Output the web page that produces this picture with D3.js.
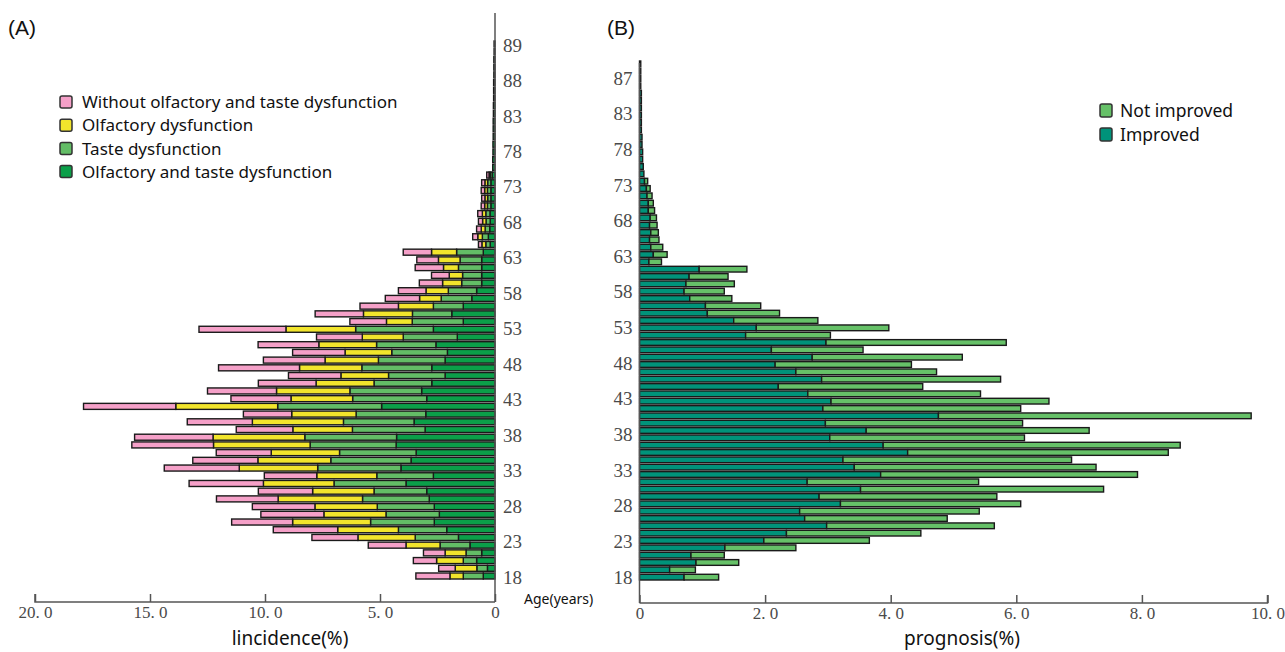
<!DOCTYPE html>
<html>
<head>
<meta charset="utf-8">
<script src="https://cdn.jsdelivr.net/npm/d3@7"></script>
<style>
  body { margin: 0; background: #fff; }
  svg { display: block; }
</style>
</head>
<body>
<div id="chart"></div>
<script>
// ---- data (row 0 = bottom bar) ----
// panel A, incidence (%) by age row
var bothA  = [0.51,0.33,0.80,0.58,1.09,1.59,2.10,2.64,2.42,2.64, 2.86,2.97,3.87,2.68,4.09,3.65,3.43,4.30,4.28,3.04,
              3.52,3.01,4.93,2.97,3.19,2.75,2.17,2.75,2.17,2.07, 2.57,1.64,2.68,1.38,1.88,1.38,1.01,0.80,0.58,0.58,
              0.58,0.58,0.51,0.21,0.29,0.23,0.21,0.22,0.18,0.18, 0.18,0.18,0.12,0.10,0.10,0.09,0.09,0.08,0.08,0.08,
              0.07,0.07,0.06,0.06,0.06,0.05,0.05,0.05,0.04,0.04];
var tasteA = [0.87,0.46,0.58,0.68,1.30,1.88,2.10,2.77,2.32,2.48, 2.90,2.29,3.13,2.46,3.62,3.49,3.33,3.74,3.99,3.16,
              3.07,3.03,4.52,3.22,3.12,2.51,2.46,3.04,2.90,2.42, 2.58,2.35,3.38,2.22,1.71,1.30,1.33,1.23,0.87,0.83,
              1.01,0.94,1.16,0.19,0.26,0.20,0.18,0.18,0.15,0.14, 0.15,0.14,0.08,0,0,0,0,0,0,0,
              0,0,0,0,0,0,0,0,0,0];
var olfA   = [0.58,0.94,1.16,0.91,1.48,2.49,2.64,3.39,2.70,2.71, 3.67,2.67,3.07,2.61,3.41,3.17,2.97,4.20,3.99,2.59,
              3.96,2.80,4.43,2.68,3.19,2.52,2.07,2.71,2.32,2.03, 2.51,1.78,3.03,1.12,2.13,1.52,0.94,0.97,0.83,0.58,
              0.65,0.94,1.09,0.17,0.20,0.17,0.15,0.15,0.12,0.12, 0.12,0.12,0.06,0,0,0,0,0,0,0,
              0,0,0,0,0,0,0,0,0,0];
var noneA  = [1.48,0.72,1.01,0.94,1.64,2.00,2.80,2.65,2.74,2.72, 2.68,2.36,3.23,2.28,3.26,2.83,2.39,3.55,3.41,2.46,
              2.83,2.10,4.01,2.61,3.00,2.51,2.28,3.52,2.68,2.28, 2.64,1.99,3.78,1.59,2.10,1.67,1.49,1.20,1.01,0.77,
              1.23,0.94,1.23,0.15,0.22,0.20,0.18,0.20,0.15,0.14, 0.15,0.14,0.10,0,0,0,0,0,0,0,
              0,0,0,0,0,0,0,0,0,0];

// panel B, prognosis (%) by age row
var improvedB    = [0.71,0.48,0.90,0.82,1.36,1.98,2.34,2.98,2.63,2.55, 3.20,2.86,3.52,2.67,3.84,3.42,3.24,4.27,3.88,3.03,
                    3.61,2.96,4.76,2.92,3.05,2.68,2.21,2.90,2.49,2.16, 2.75,2.10,2.97,1.69,1.86,1.50,1.08,1.05,0.80,0.71,
                    0.74,0.79,0.95,0.15,0.22,0.18,0.16,0.18,0.16,0.17, 0.14,0.14,0.12,0.11,0.08,0.07,0.06,0.05,0.05,0.04,
                    0.04,0.03,0.03,0.03,0.03,0.03,0.03,0.02,0.02,0.02,0.02];
var notImprovedB = [0.55,0.41,0.68,0.53,1.13,1.68,2.14,2.67,2.27,2.86, 2.87,2.83,3.87,2.73,4.09,3.85,3.64,4.15,4.73,3.10,
                    3.55,3.14,4.98,3.15,3.47,2.75,2.30,2.85,2.24,2.17, 2.39,1.46,2.87,1.35,2.11,1.34,1.15,0.88,0.67,0.64,
                    0.77,0.62,0.76,0.20,0.22,0.19,0.15,0.12,0.12,0.10, 0.10,0.08,0.08,0.06,0.05,0,0,0,0,0,
                    0,0,0,0,0,0,0,0,0,0,0];

var ageTicksA = ["18","23","28","33","38","43","48","53","58","63","68","73","78","83","88","89"];
var ageTicksB = ["18","23","28","33","38","43","48","53","58","63","68","73","78","83","87"];

var xTicksA = [0, 5, 10, 15, 20];
var xTickLabelsA = ["0", "5. 0", "10. 0", "15. 0", "20. 0"];
var xTicksB = [0, 2, 4, 6, 8, 10];
var xTickLabelsB = ["0", "2. 0", "4. 0", "6. 0", "8. 0", "10. 0"];

var seriesA = ["Without olfactory and taste dysfunction", "Olfactory dysfunction",
               "Taste dysfunction", "Olfactory and taste dysfunction"];
var seriesB = ["Not improved", "Improved"];

// colours
var colA = {none: "#f5a0c8", olf: "#f2e52c", taste: "#63bd66", both: "#0b9f49"};
var colB = {not: "#66c168", imp: "#00937a"};

var width = 1285, height = 652;
var svg = d3.select("#chart").append("svg")
    .attr("width", width)
    .attr("height", height)
    .style("font-family", "'Liberation Sans', Arial, sans-serif");

var axisCol = "#555";
var serif = "'Liberation Serif', 'DejaVu Serif', serif";
var sans = "'Noto Sans', 'Open Sans', sans-serif";

// ---------------- panel A ----------------
var xA = d3.scaleLinear().domain([0, 20]).range([495, 35]);
var yA = d3.scaleBand().domain(d3.range(bothA.length)).range([579, 41]).paddingInner(0.22);
var tickYA = d3.scalePoint().domain(ageTicksA).range([577, 45]);

var tableA = bothA.map(function (v, i) {
    return {row: i, both: v, taste: tasteA[i], olf: olfA[i], none: noneA[i]};
});
var stackA = d3.stack().keys(["both", "taste", "olf", "none"])(tableA);

svg.append("g").selectAll("g")
    .data(stackA)
  .enter().append("g")
    .attr("fill", function (s) { return colA[s.key]; })
  .selectAll("rect")
    .data(function (s) { return s.filter(function (d) { return d[1] - d[0] > 0; }); })
  .enter().append("rect")
    .attr("x", function (d) { return xA(d[1]); })
    .attr("y", function (d) { return yA(d.data.row); })
    .attr("width", function (d) { return xA(d[0]) - xA(d[1]); })
    .attr("height", yA.bandwidth())
    .attr("stroke", "#1a1a1a")
    .attr("stroke-width", 1.4);

// x axis A (ticks point up)
var xAxisA = d3.axisBottom(xA)
    .tickValues(xTicksA)
    .tickSize(-8)
    .tickPadding(4)
    .tickFormat(function (d, i) { return xTickLabelsA[i]; });
var gxA = svg.append("g").attr("transform", "translate(0,602)").call(xAxisA);
gxA.select(".domain").attr("d", "M" + xA(20) + ",-8V0H" + xA(0));
styleAxis(gxA);
gxA.selectAll("text").attr("dy", "0.72em");

// y axis A (age labels right of the line)
svg.append("line")
    .attr("x1", xA(0)).attr("x2", xA(0))
    .attr("y1", 13).attr("y2", 602)
    .attr("stroke", axisCol).attr("stroke-width", 1.5);
var gyA = svg.append("g")
    .attr("transform", "translate(" + (xA(0) + 6) + ",0)")
    .call(d3.axisRight(tickYA).tickSize(0).tickPadding(2));
gyA.select(".domain").remove();
gyA.selectAll("text").attr("font-family", serif).attr("font-size", 19).attr("fill", "#4a4a4a");

svg.append("text")
    .attr("x", 290).attr("y", 645)
    .attr("text-anchor", "middle")
    .attr("font-family", sans).attr("font-size", 19).attr("fill", "#111")
    .text("lincidence(%)");

svg.append("text")
    .attr("x", 524).attr("y", 604)
    .attr("font-family", sans).attr("font-size", 14).attr("fill", "#111")
    .text("Age(years)");

svg.append("text")
    .attr("x", 8).attr("y", 35)
    .attr("font-size", 21).attr("fill", "#111")
    .text("(A)");

// legend A
var legColsA = [colA.none, colA.olf, colA.taste, colA.both];
var legA = svg.append("g").selectAll("g")
    .data(seriesA)
  .enter().append("g")
    .attr("transform", function (d, i) { return "translate(60," + (96 + i * 23.2) + ")"; });
legA.append("rect")
    .attr("width", 12).attr("height", 12).attr("rx", 2)
    .attr("fill", function (d, i) { return legColsA[i]; })
    .attr("stroke", "#333").attr("stroke-width", 1.5);
legA.append("text")
    .attr("x", 22).attr("y", 6).attr("dy", "0.36em")
    .attr("font-family", sans).attr("font-size", 17).attr("fill", "#111")
    .text(function (d) { return d; });

// ---------------- panel B ----------------
var xB = d3.scaleLinear().domain([0, 10]).range([639.5, 1267.5]);
var yB = d3.scaleBand().domain(d3.range(improvedB.length)).range([580, 61]).paddingInner(0.22);
var tickYB = d3.scalePoint().domain(ageTicksB).range([577, 78]);

var tableB = improvedB.map(function (v, i) {
    return {row: i, imp: v, not: notImprovedB[i]};
});
var stackB = d3.stack().keys(["imp", "not"])(tableB);

svg.append("g").selectAll("g")
    .data(stackB)
  .enter().append("g")
    .attr("fill", function (s) { return colB[s.key]; })
  .selectAll("rect")
    .data(function (s) { return s.filter(function (d) { return d[1] - d[0] > 0; }); })
  .enter().append("rect")
    .attr("x", function (d) { return xB(d[0]); })
    .attr("y", function (d) { return yB(d.data.row); })
    .attr("width", function (d) { return xB(d[1]) - xB(d[0]); })
    .attr("height", yB.bandwidth())
    .attr("stroke", "#1a1a1a")
    .attr("stroke-width", 1.4);

var xAxisB = d3.axisBottom(xB)
    .tickValues(xTicksB)
    .tickSize(-8)
    .tickPadding(4)
    .tickFormat(function (d, i) { return xTickLabelsB[i]; });
var gxB = svg.append("g").attr("transform", "translate(0,603)").call(xAxisB);
gxB.select(".domain").attr("d", "M" + xB(0) + ",0H" + xB(10) + "V-8");
styleAxis(gxB);
gxB.selectAll("text").attr("dy", "0.72em");

svg.append("line")
    .attr("x1", xB(0)).attr("x2", xB(0))
    .attr("y1", 63).attr("y2", 603)
    .attr("stroke", axisCol).attr("stroke-width", 1.5);
var gyB = svg.append("g")
    .attr("transform", "translate(" + (xB(0) - 5) + ",0)")
    .call(d3.axisLeft(tickYB).tickSize(0).tickPadding(2));
gyB.select(".domain").remove();
gyB.selectAll("text").attr("font-family", serif).attr("font-size", 19).attr("fill", "#4a4a4a");

svg.append("text")
    .attr("x", 962).attr("y", 645)
    .attr("text-anchor", "middle")
    .attr("font-family", sans).attr("font-size", 19).attr("fill", "#111")
    .text("prognosis(%)");

svg.append("text")
    .attr("x", 607).attr("y", 35)
    .attr("font-size", 21).attr("fill", "#111")
    .text("(B)");

var legColsB = [colB.not, colB.imp];
var legB = svg.append("g").selectAll("g")
    .data(seriesB)
  .enter().append("g")
    .attr("transform", function (d, i) { return "translate(1100," + (104 + i * 24) + ")"; });
legB.append("rect")
    .attr("width", 12).attr("height", 13).attr("rx", 2)
    .attr("fill", function (d, i) { return legColsB[i]; })
    .attr("stroke", "#333").attr("stroke-width", 1.5);
legB.append("text")
    .attr("x", 20).attr("y", 6.5).attr("dy", "0.36em")
    .attr("font-family", sans).attr("font-size", 17.5).attr("fill", "#111")
    .text(function (d) { return d; });

function styleAxis(g) {
    g.select(".domain").attr("stroke", axisCol).attr("stroke-width", 1.5).attr("fill", "none");
    g.selectAll(".tick line").attr("stroke", axisCol).attr("stroke-width", 1.5);
    g.selectAll(".tick text")
        .attr("font-family", serif)
        .attr("font-size", 17)
        .attr("fill", "#4a4a4a");
}
</script>
</body>
</html>
